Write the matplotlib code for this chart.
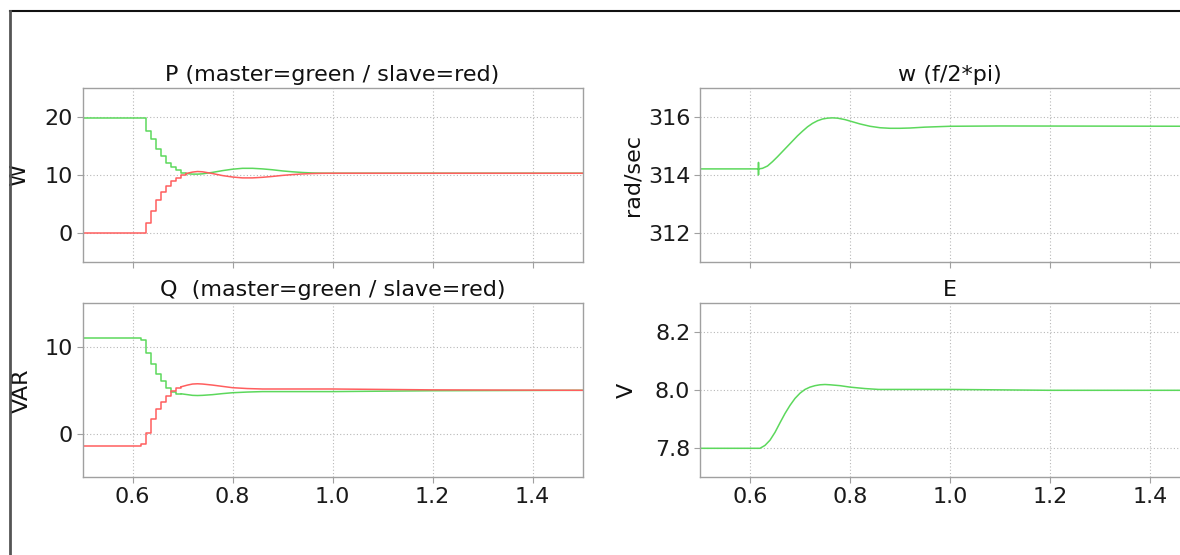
import matplotlib
matplotlib.use("Agg")
import matplotlib.pyplot as plt
from matplotlib.lines import Line2D

# ---------------- data ----------------
# stepped part (value holds from each time until the next)
p_step_t = [0.50, 0.627, 0.637, 0.647, 0.657, 0.667, 0.677, 0.687, 0.697, 0.707]
p_master_step = [19.8, 17.6, 16.2, 14.5, 13.2, 12.1, 11.4, 10.8, 10.3, 10.2]
p_slave_step = [0.0, 1.7, 3.7, 5.6, 7.1, 8.0, 8.9, 9.5, 9.95, 10.2]
# smooth part
p_t = [0.707, 0.72, 0.73, 0.74, 0.76, 0.78, 0.80, 0.82, 0.84, 0.86, 0.88,
       0.90, 0.92, 0.94, 0.96, 0.98, 1.00, 1.20, 1.50]
p_master = [10.2, 10.1, 10.1, 10.15, 10.4, 10.7, 10.95, 11.1, 11.1, 11.0,
            10.85, 10.65, 10.5, 10.38, 10.3, 10.26, 10.25, 10.25, 10.25]
p_slave = [10.2, 10.45, 10.55, 10.5, 10.2, 9.85, 9.6, 9.45, 9.45, 9.55,
           9.7, 9.88, 10.02, 10.13, 10.2, 10.24, 10.25, 10.25, 10.25]

q_step_t = [0.50, 0.616, 0.627, 0.637, 0.647, 0.657, 0.667, 0.677, 0.687, 0.697]
q_master_step = [11.0, 10.8, 9.3, 8.0, 6.9, 6.05, 5.3, 4.8, 4.6, 4.6]
q_slave_step = [-1.35, -1.15, 0.1, 1.7, 2.9, 3.6, 4.4, 4.9, 5.3, 5.4]
q_t = [0.697, 0.71, 0.72, 0.73, 0.74, 0.76, 0.78, 0.80, 0.83, 0.86, 0.90,
       1.00, 1.10, 1.20, 1.50]
q_master = [4.6, 4.5, 4.42, 4.4, 4.42, 4.5, 4.62, 4.72, 4.8, 4.85, 4.85,
            4.85, 4.9, 4.95, 5.0]
q_slave = [5.4, 5.6, 5.72, 5.75, 5.72, 5.6, 5.45, 5.3, 5.2, 5.15, 5.15,
           5.15, 5.1, 5.05, 5.0]

w_t = [0.50, 0.617, 0.617, 0.617, 0.617, 0.625, 0.635, 0.645, 0.655, 0.665,
       0.675, 0.685, 0.695, 0.705, 0.715, 0.725, 0.735, 0.745, 0.755, 0.765,
       0.775, 0.79, 0.80, 0.82, 0.84, 0.86, 0.88, 0.90, 0.92, 0.95, 1.00,
       1.10, 1.50]
w_val = [314.2, 314.2, 314.42, 314.0, 314.2, 314.22, 314.3, 314.45, 314.62,
         314.8, 314.98, 315.16, 315.34, 315.5, 315.65, 315.77, 315.86, 315.92,
         315.95, 315.96, 315.95, 315.9, 315.85, 315.75, 315.67, 315.62, 315.6,
         315.6, 315.61, 315.64, 315.67, 315.68, 315.67]

e_t = [0.50, 0.62, 0.63, 0.64, 0.65, 0.66, 0.67, 0.68, 0.69, 0.70, 0.71,
       0.72, 0.73, 0.74, 0.75, 0.76, 0.78, 0.80, 0.83, 0.857, 1.00, 1.20, 1.50]
e_val = [7.8, 7.8, 7.81, 7.828, 7.855, 7.888, 7.92, 7.948, 7.972, 7.99,
         8.003, 8.011, 8.016, 8.019, 8.02, 8.019, 8.016, 8.011, 8.006, 8.003,
         8.003, 8.0, 8.0]

x_ticks = [0.6, 0.8, 1.0, 1.2, 1.4]
titles = ["P (master=green / slave=red)", "w (f/2*pi)",
          "Q  (master=green / slave=red)", "E"]
ylabels = ["W", "rad/sec", "VAR", "V"]

GREEN = "#5cd85c"
RED = "#ff5e5e"
SPINE = "#a0a0a0"

plt.rcParams["font.family"] = ["DejaVu Sans"]

W, H = 1180, 555
fig = plt.figure(figsize=(W / 100, H / 100), dpi=100)


def px_axes(x0, y_top, w, h):
    return fig.add_axes([x0 / W, (H - y_top - h) / H, w / W, h / H])


ax_p = px_axes(82.5, 87.7, 500, 174)
ax_w = px_axes(700, 87.7, 500, 174)
ax_q = px_axes(82.5, 303.3, 500, 174)
ax_e = px_axes(700, 303.3, 500, 174)
axes = [ax_p, ax_w, ax_q, ax_e]

# P
ax_p.plot(p_step_t, p_master_step, drawstyle="steps-post", color=GREEN, lw=1.1)
ax_p.plot(p_t, p_master, color=GREEN, lw=1.1)
ax_p.plot(p_step_t, p_slave_step, drawstyle="steps-post", color=RED, lw=1.1)
ax_p.plot(p_t, p_slave, color=RED, lw=1.1)
ax_p.set_ylim(-5, 25)
ax_p.set_yticks([0, 10, 20])

# Q
ax_q.plot(q_step_t, q_master_step, drawstyle="steps-post", color=GREEN, lw=1.1)
ax_q.plot(q_t, q_master, color=GREEN, lw=1.1)
ax_q.plot(q_step_t, q_slave_step, drawstyle="steps-post", color=RED, lw=1.1)
ax_q.plot(q_t, q_slave, color=RED, lw=1.1)
ax_q.set_ylim(-5, 15)
ax_q.set_yticks([0, 10])

# w
ax_w.plot(w_t, w_val, color=GREEN, lw=1.1)
ax_w.set_ylim(311, 317)
ax_w.set_yticks([312, 314, 316])

# E
ax_e.plot(e_t, e_val, color=GREEN, lw=1.1)
ax_e.set_ylim(7.7, 8.3)
ax_e.set_yticks([7.8, 8.0, 8.2])
ax_e.set_yticklabels(["7.8", "8.0", "8.2"])

label_x = [-0.107, -0.116, -0.101, -0.126]
for ax, t, yl, lx in zip(axes, titles, ylabels, label_x):
    ax.set_xlim(0.5, 1.5)
    ax.set_xticks(x_ticks)
    ax.set_xticklabels([f"{v:.1f}" for v in x_ticks])
    ax.grid(True, linestyle=(0, (1, 2)), color="#b8b8b8", lw=0.8)
    for s in ax.spines.values():
        s.set_color(SPINE)
        s.set_linewidth(1.0)
    ax.tick_params(axis="both", colors="#1a1a1a", labelsize=16, length=4,
                   width=0.8, direction="out", pad=3)
    ax.tick_params(axis="both", color=SPINE)
    ax.set_title(t, fontsize=16, pad=5, color="#111111")
    ax.set_ylabel(yl, fontsize=16, color="#111111")
    ax.yaxis.set_label_coords(lx, 0.5)

for ax in (ax_p, ax_w):
    ax.tick_params(axis="x", labelbottom=False)

# figure frame (left and top edges)
fig.add_artist(Line2D([10 / W, 1.0], [1 - 10.5 / H, 1 - 10.5 / H],
                      transform=fig.transFigure, color="#111111", lw=1.5))
fig.add_artist(Line2D([10 / W, 10 / W], [0.0, 1 - 10.5 / H],
                      transform=fig.transFigure, color="#555555", lw=2.0))

fig.savefig("out.png", dpi=100)
